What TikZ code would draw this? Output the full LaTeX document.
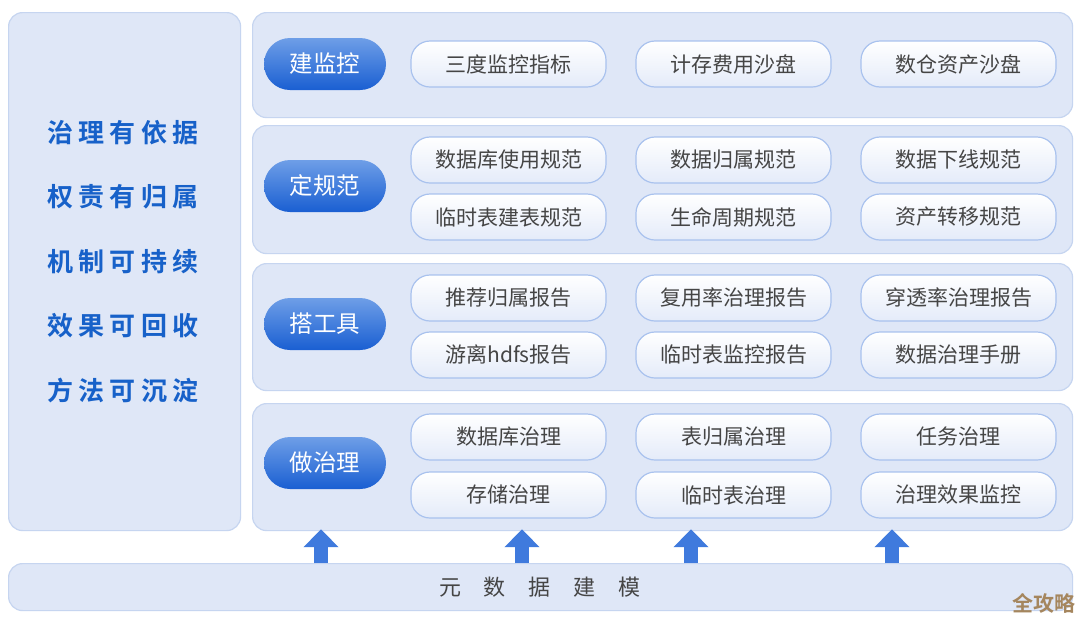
\documentclass[tikz,border=0pt]{standalone}
\usepackage{fontspec}
\setmainfont{Noto Sans CJK SC}
\newfontfamily\cjkb{Noto Sans CJK SC Bold}
\usetikzlibrary{arrows.meta}
\definecolor{panelfill}{HTML}{DFE7F7}
\definecolor{paneldraw}{HTML}{C6D5F0}
\definecolor{pilltop}{HTML}{6E9EE7}
\definecolor{pillbot}{HTML}{1A5FD2}
\definecolor{boxdraw}{HTML}{A9C2EE}
\definecolor{boxbot}{HTML}{E4EBF9}
\definecolor{lefttext}{HTML}{1761C9}
\definecolor{boxtext}{HTML}{454545}
\definecolor{arrowcol}{HTML}{3F7ADD}
\definecolor{wmcol}{HTML}{A5865E}
\tikzset{
  panel/.style={draw=paneldraw, line width=1.2pt, fill=panelfill, rounded corners=14pt, anchor=north west, inner sep=0pt},
  pill/.style={top color=pilltop, bottom color=pillbot, draw=none, rounded corners=26pt, minimum width=122pt, minimum height=52pt, text=white, font=\fontsize{23.5}{23.5}\selectfont, inner sep=0pt},
  itembox/.style={top color=white, bottom color=boxbot, draw=boxdraw, line width=1.2pt, rounded corners=19pt, minimum width=195pt, minimum height=46pt, text=boxtext, font=\fontsize{21}{21}\selectfont, inner sep=0pt},
  lefttxt/.style={text=lefttext, font=\cjkb\fontsize{26}{26}\selectfont, inner sep=0pt},
  uparrow/.style={draw=arrowcol, line width=14pt, -{Triangle[length=18pt,width=34pt]}, shorten >=0pt},
}
\newcommand\lsp{\kern5.5pt}
\newcommand\bsp{\kern23pt}
\begin{document}
\begin{tikzpicture}[x=1pt,y=-1pt]
\useasboundingbox (0,0) rectangle (1080,622);
\fill[white] (0,0) rectangle (1080,622);
% panels
\node[panel, minimum width=232pt, minimum height=518pt] (left) at (8,12) {};
\node[panel, minimum width=820pt, minimum height=105pt] (r1) at (252,12) {};
\node[panel, minimum width=820pt, minimum height=128pt] (r2) at (252,125) {};
\node[panel, minimum width=820pt, minimum height=127pt] (r3) at (252,263) {};
\node[panel, minimum width=820pt, minimum height=127pt] (r4) at (252,403) {};
\node[panel, minimum width=1064pt, minimum height=47pt] (bar) at (8,563) {};
% left texts
\node[lefttxt] (l1) at (123,133) {治\lsp 理\lsp 有\lsp 依\lsp 据};
\node[lefttxt] (l2) at (123,197) {权\lsp 责\lsp 有\lsp 归\lsp 属};
\node[lefttxt] (l3) at (123,262) {机\lsp 制\lsp 可\lsp 持\lsp 续};
\node[lefttxt] (l4) at (123,326) {效\lsp 果\lsp 可\lsp 回\lsp 收};
\node[lefttxt] (l5) at (123,390) {方\lsp 法\lsp 可\lsp 沉\lsp 淀};
% pills
\node[pill] (p1) at (325,64) {建监控};
\node[pill] (p2) at (325,186) {定规范};
\node[pill] (p3) at (325,324) {搭工具};
\node[pill] (p4) at (325,463) {做治理};
% row 1
\node[itembox] (b11) at (508.5,64) {三度监控指标};
\node[itembox] (b12) at (733.5,64) {计存费用沙盘};
\node[itembox] (b13) at (958.5,64) {数仓资产沙盘};
% row 2
\node[itembox] (b21) at (508.5,160) {数据库使用规范};
\node[itembox] (b22) at (733.5,160) {数据归属规范};
\node[itembox] (b23) at (958.5,160) {数据下线规范};
\node[itembox] (b24) at (508.5,217) {临时表建表规范};
\node[itembox] (b25) at (733.5,217) {生命周期规范};
\node[itembox] (b26) at (958.5,217) {资产转移规范};
% row 3
\node[itembox] (b31) at (508.5,298) {推荐归属报告};
\node[itembox] (b32) at (733.5,298) {复用率治理报告};
\node[itembox] (b33) at (958.5,298) {穿透率治理报告};
\node[itembox] (b34) at (508.5,355) {游离hdfs报告};
\node[itembox] (b35) at (733.5,355) {临时表监控报告};
\node[itembox] (b36) at (958.5,355) {数据治理手册};
% row 4
\node[itembox] (b41) at (508.5,437) {数据库治理};
\node[itembox] (b42) at (733.5,437) {表归属治理};
\node[itembox] (b43) at (958.5,437) {任务治理};
\node[itembox] (b44) at (508.5,495) {存储治理};
\node[itembox] (b45) at (733.5,495) {临时表治理};
\node[itembox] (b46) at (958.5,495) {治理效果监控};
% bottom text
\node[text=boxtext, font=\fontsize{22}{22}\selectfont, inner sep=0pt] (base) at (540,587) {元\bsp 数\bsp 据\bsp 建\bsp 模};
% arrows
\coordinate (a1) at (321,0);
\coordinate (a2) at (522,0);
\coordinate (a3) at (691,0);
\coordinate (a4) at (892,0);
\foreach \a in {a1,a2,a3,a4}{
  \draw[uparrow] (bar.north -| \a) -- ([yshift=2pt]r4.south -| \a);
}
% watermark
\node[text=wmcol, font=\cjkb\fontsize{21}{21}\selectfont, inner sep=0pt, anchor=east] (wm) at (1076,603) {全攻略};
\end{tikzpicture}
\end{document}
